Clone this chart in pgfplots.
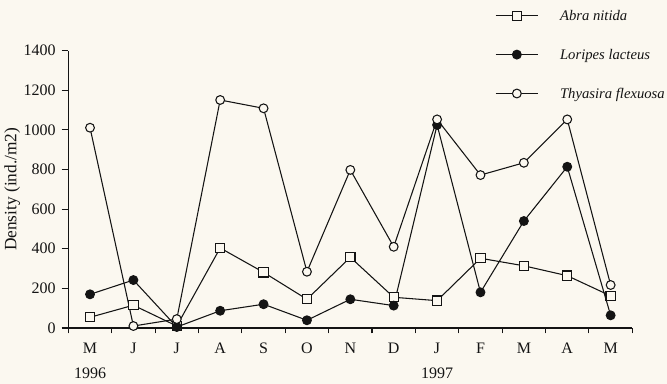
\documentclass[border=0pt]{standalone}
\usepackage{fontspec}
\setmainfont{Liberation Serif}
\usepackage{pgfplots}
\pgfplotsset{compat=1.18}
\definecolor{bg}{RGB}{251,248,240}
\definecolor{ink}{RGB}{20,20,20}
\begin{document}
\begin{tikzpicture}
\fill[bg] (-51pt,-42pt) rectangle (449pt,246pt);
\begin{axis}[
  at={(0,0)}, anchor=south west,
  scale only axis, width=423pt, height=208pt,
  axis lines*=left,
  axis line style={ink, line width=0.8pt},
  xmin=-0.5, xmax=12.5, ymin=0, ymax=1400,
  xtick={0,...,12},
  xticklabels={M,J,J,A,S,O,N,D,J,F,M,A,M},
  minor xtick={-0.5,0.5,...,12.5},
  ytick={0,200,...,1400},
  tick align=outside,
  x tick style={draw=none},
  minor x tick style={draw=ink, line width=0.8pt},
  minor tick length=4pt,
  y tick style={ink, line width=0.8pt},
  major tick length=5pt,
  ticklabel style={font=\fontsize{12}{14}\selectfont, text=ink},
  xticklabel style={yshift=-3pt},
  yticklabel style={xshift=-1pt},
  /pgf/number format/assume math mode=true,
  /pgf/number format/1000 sep={},
  ylabel={Density (ind./m2)},
  every axis y label/.style={at={(-42pt,104pt)}, rotate=90, anchor=center,
    font=\fontsize{13}{15}\selectfont, text=ink},
  clip=false,
  legend style={at={(320pt,238pt)}, anchor=north west, draw=none, fill=none,
    font=\itshape\fontsize{11}{13}\selectfont, text=ink,
    row sep=21.5pt, inner sep=0pt, outer sep=0pt, legend cell align=left,
    nodes={inner sep=0pt, text depth=0pt}},
  legend style={/tikz/every odd column/.append style={column sep=16pt}},
  legend image code/.code={\draw[mark repeat=2,mark phase=2] plot coordinates {(0pt,0pt)(16pt,0pt)(32pt,0pt)};},
  every axis plot/.append style={line width=0.8pt, draw=ink},
]
\addplot[ink, mark=square*, mark size=3.5pt, mark options={fill=bg, draw=ink, line width=0.8pt}] coordinates {
 (0,54) (1,115) (2,10) (3,404) (4,281) (5,145) (6,357) (7,155) (8,138) (9,352) (10,314) (11,264) (12,162)};
\addlegendentry{Abra nitida}
\addplot[ink, mark=*, mark size=3.3pt, mark options={fill=ink, draw=ink, line width=0.8pt}] coordinates {
 (0,170) (1,242) (2,5) (3,87) (4,120) (5,39) (6,145) (7,113) (8,1025) (9,180) (10,540) (11,814) (12,64)};
\addlegendentry{Loripes lacteus}
\addplot[ink, mark=*, mark size=3.3pt, mark options={fill=bg, draw=ink, line width=0.8pt}] coordinates {
 (0,1011) (1,10) (2,45) (3,1151) (4,1109) (5,284) (6,798) (7,410) (8,1053) (9,772) (10,834) (11,1053) (12,217)};
\addlegendentry{Thyasira flexuosa}
\node[font=\fontsize{12}{14}\selectfont, text=ink] at (axis cs:0,0) [yshift=-34pt] {1996};
\node[font=\fontsize{12}{14}\selectfont, text=ink] at (axis cs:8,0) [yshift=-34pt] {1997};
\end{axis}
\end{tikzpicture}
\end{document}
